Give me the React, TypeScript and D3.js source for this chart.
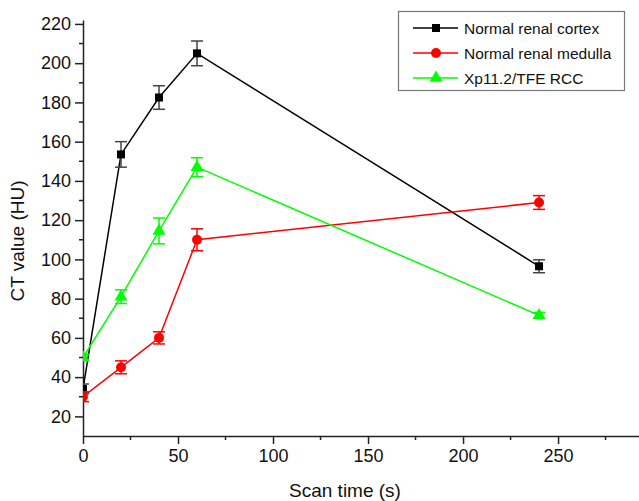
import React, { useRef, useEffect } from "react";
import * as d3 from "d3";

const times = [0, 20, 40, 60, 240];
const cortex = [34, 153.5, 182.5, 205, 96.5];
const cortexErr = [2.5, 6.5, 6, 6.3, 3.3];
const medulla = [30, 45, 60, 110, 129];
const medullaErr = [2.5, 3.3, 3.1, 5.6, 3.5];
const tfe = [50, 81, 114.5, 147, 71.5];
const tfeErr = [1.5, 3.5, 6.6, 4.8, 1.5];

const seriesNames = ["Normal renal cortex", "Normal renal medulla", "Xp11.2/TFE RCC"];
const seriesColors = ["#000000", "#ff0000", "#00ff00"];
const capColors = ["#444444", "#ff0000", "#00ff00"];
const seriesShapes = [d3.symbolSquare, d3.symbolCircle, d3.symbolTriangle];
const shapeSizes = [64, 78, 72];

const xTicks = [0, 50, 100, 150, 200, 250];
const yTicks = [20, 40, 60, 80, 100, 120, 140, 160, 180, 200, 220];

const App = () => {
  const svgRef = useRef<SVGSVGElement>(null);

  useEffect(() => {
    const svg = d3.select(svgRef.current);
    svg.selectAll("*").remove();
    const width = 639;
    const left = 83;
    const top = 20;
    const bottom = 436;
    const font = "Arial, 'Liberation Sans', sans-serif";

    const x = d3.scaleLinear().domain([0, 292.6]).range([left, width]);
    const y = d3.scaleLinear().domain([10, 222]).range([bottom, top]);

    svg
      .append("defs")
      .append("clipPath")
      .attr("id", "plotClip")
      .append("rect")
      .attr("x", left)
      .attr("y", 0)
      .attr("width", width - left)
      .attr("height", bottom);

    // axes
    const xAxis = svg.append("g").attr("transform", `translate(0,${bottom})`);
    xAxis
      .call(d3.axisBottom(x).tickValues(xTicks).tickSize(8).tickSizeOuter(0).tickPadding(5))
      .call((g) => g.select(".domain").attr("stroke", "#222").attr("stroke-width", 1.5))
      .call((g) => g.selectAll(".tick line").attr("stroke", "#222").attr("stroke-width", 1.5))
      .call((g) =>
        g.selectAll("text").attr("font-size", 18).attr("font-family", font).attr("fill", "#111")
      );
    xAxis
      .selectAll(".minor")
      .data([25, 75, 125, 175, 225, 275])
      .enter()
      .append("line")
      .attr("x1", (d) => x(d))
      .attr("x2", (d) => x(d))
      .attr("y1", 0)
      .attr("y2", 4)
      .attr("stroke", "#222")
      .attr("stroke-width", 1.5);

    const yAxis = svg.append("g").attr("transform", `translate(${left},0)`);
    yAxis
      .call(d3.axisLeft(y).tickValues(yTicks).tickSize(8).tickSizeOuter(0).tickPadding(4))
      .call((g) => g.select(".domain").attr("stroke", "#222").attr("stroke-width", 1.5))
      .call((g) => g.selectAll(".tick line").attr("stroke", "#222").attr("stroke-width", 1.5))
      .call((g) =>
        g.selectAll("text").attr("font-size", 18).attr("font-family", font).attr("fill", "#111")
      );
    yAxis
      .selectAll(".minor")
      .data([30, 50, 70, 90, 110, 130, 150, 170, 190, 210])
      .enter()
      .append("line")
      .attr("x1", -4)
      .attr("x2", 0)
      .attr("y1", (d) => y(d))
      .attr("y2", (d) => y(d))
      .attr("stroke", "#222")
      .attr("stroke-width", 1.5);

    svg
      .append("text")
      .attr("x", 345)
      .attr("y", 497)
      .attr("text-anchor", "middle")
      .attr("font-size", 19)
      .attr("font-family", font)
      .attr("fill", "#111")
      .text("Scan time (s)");

    svg
      .append("text")
      .attr("transform", "translate(24,241) rotate(-90)")
      .attr("text-anchor", "middle")
      .attr("font-size", 19)
      .attr("font-family", font)
      .attr("fill", "#111")
      .text("CT value (HU)");

    // series
    const values = [cortex, medulla, tfe];
    const errors = [cortexErr, medullaErr, tfeErr];
    const plot = svg.append("g").attr("clip-path", "url(#plotClip)");
    const line = d3
      .line<number>()
      .x((d, i) => x(times[i]))
      .y((d) => y(d));

    values.forEach((vals, s) => {
      plot
        .append("path")
        .datum(vals)
        .attr("d", line)
        .attr("fill", "none")
        .attr("stroke", seriesColors[s])
        .attr("stroke-width", 1.5);

      const err = plot.append("g").attr("stroke", capColors[s]).attr("stroke-width", 1.5);
      vals.forEach((v, i) => {
        const cx = x(times[i]);
        const e = errors[s][i];
        err.append("line").attr("x1", cx).attr("x2", cx).attr("y1", y(v + e)).attr("y2", y(v - e));
        [v + e, v - e].forEach((c) =>
          err.append("line").attr("x1", cx - 6).attr("x2", cx + 6).attr("y1", y(c)).attr("y2", y(c))
        );
      });

      plot
        .selectAll(`.m${s}`)
        .data(vals)
        .enter()
        .append("path")
        .attr("d", d3.symbol().type(seriesShapes[s]).size(shapeSizes[s]))
        .attr("transform", (d, i) => `translate(${x(times[i])},${y(d)})`)
        .attr("fill", seriesColors[s]);
    });

    // legend
    const legend = svg.append("g");
    legend
      .append("rect")
      .attr("x", 398.5)
      .attr("y", 11.5)
      .attr("width", 226)
      .attr("height", 79)
      .attr("fill", "white")
      .attr("stroke", "#777")
      .attr("stroke-width", 1.2);
    seriesNames.forEach((name, s) => {
      const ly = 28 + s * 25;
      legend
        .append("line")
        .attr("x1", 413)
        .attr("x2", 458)
        .attr("y1", ly)
        .attr("y2", ly)
        .attr("stroke", seriesColors[s])
        .attr("stroke-width", 1.5);
      legend
        .append("path")
        .attr("d", d3.symbol().type(seriesShapes[s]).size(shapeSizes[s]))
        .attr("transform", `translate(436,${ly})`)
        .attr("fill", seriesColors[s]);
      legend
        .append("text")
        .attr("x", 464)
        .attr("y", ly + 6)
        .attr("font-size", 15.5)
        .attr("font-family", font)
        .attr("fill", "#111")
        .text(name);
    });
  }, []);

  return (
    <svg
      ref={svgRef}
      width={639}
      height={501}
      style={{ position: "absolute", left: 0, top: 0, background: "white" }}
    ></svg>
  );
};

export default App;
